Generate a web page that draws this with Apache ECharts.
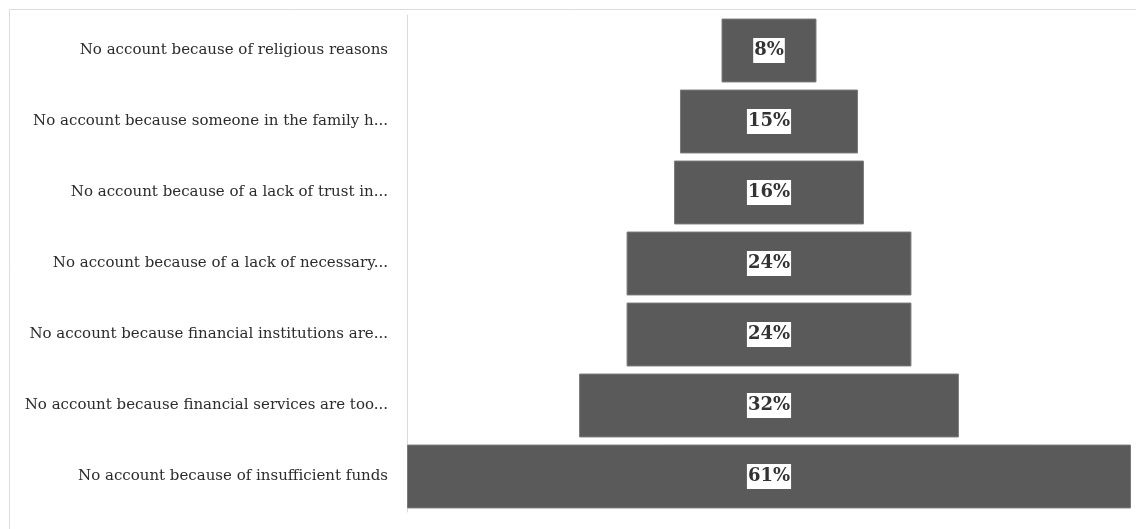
<!DOCTYPE html>
<html>
<head>
<meta charset="utf-8">
<script src="https://cdn.jsdelivr.net/npm/echarts@6/dist/echarts.min.js"></script>
<style>
  html, body { margin: 0; padding: 0; background: #fff; }
  #chart { width: 1136px; height: 529px; }
</style>
</head>
<body>
<div id="chart"></div>
<script>
// categories, top to bottom as drawn
const categories = [
  'No account because of religious reasons',
  'No account because someone in the family h...',
  'No account because of a lack of trust in...',
  'No account because of a lack of necessary...',
  'No account because financial institutions are...',
  'No account because financial services are too...',
  'No account because of insufficient funds'
]
const values = [8, 15, 16, 24, 24, 32, 61] // percent

const maxValue = Math.max(...values)
// invisible spacer so every bar sits centred (funnel look)
const spacer = values.map(v => (maxValue - v) / 2)

const chart = echarts.init(document.getElementById('chart'))

const option = {
  backgroundColor: '#fff',
  animation: false,
  grid: {
    left: 407,
    right: 5,
    top: 15,
    bottom: 17
  },
  xAxis: {
    type: 'value',
    min: 0,
    max: maxValue,
    show: false
  },
  yAxis: {
    type: 'category',
    inverse: true,
    data: categories,
    axisLine: { show: true, lineStyle: { color: '#d9d9d9', width: 1 } },
    axisTick: { show: false },
    axisLabel: {
      margin: 19,
      color: '#2b2b2b',
      fontFamily: 'DejaVu Serif',
      fontSize: 15
    }
  },
  series: [
    {
      type: 'bar',
      stack: 'funnel',
      data: spacer,
      itemStyle: { color: 'transparent' },
      barCategoryGap: '10%',
      silent: true
    },
    {
      type: 'bar',
      stack: 'funnel',
      data: values,
      barCategoryGap: '10%',
      itemStyle: {
        color: '#5a5a5a',
        borderColor: '#7a7a7a',
        borderWidth: 1
      },
      label: {
        show: true,
        position: 'inside',
        formatter: '{c}%',
        color: '#333',
        fontFamily: 'DejaVu Serif',
        fontWeight: 'bold',
        fontSize: 18,
        backgroundColor: '#fff',
        padding: [4, 1, 3, 1]
      }
    }
  ],
  graphic: [
    {
      // light frame around the chart area
      type: 'rect',
      left: 7,
      top: 7,
      shape: { width: 1140, height: 540 },
      style: { fill: 'none', stroke: '#dcdcdc', lineWidth: 1 },
      silent: true,
      z: -1
    }
  ]
}

chart.setOption(option)
</script>
</body>
</html>
